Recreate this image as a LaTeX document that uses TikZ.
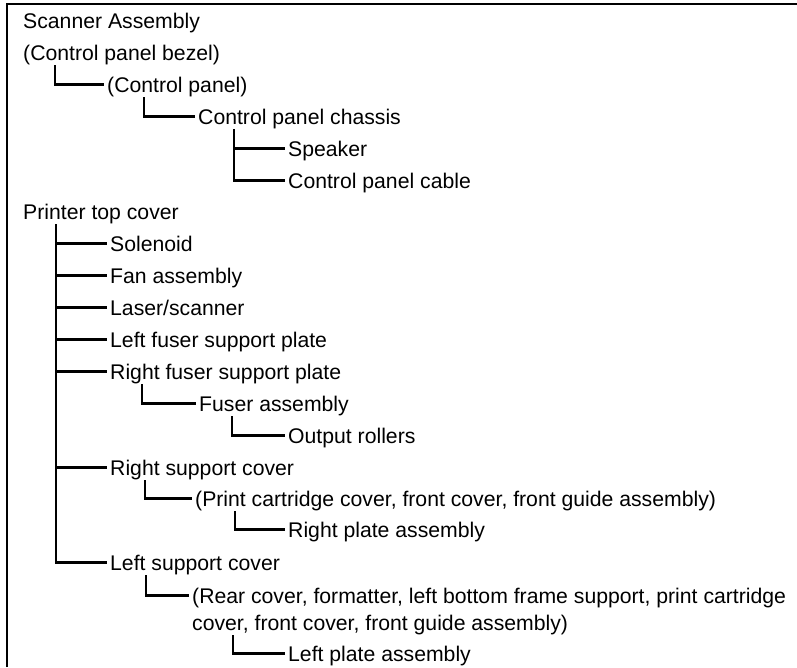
\documentclass[tikz,border=0pt]{standalone}
\usepackage{fontspec}
\setmainfont{Liberation Sans}
\begin{document}
\begin{tikzpicture}[
            x=1pt, y=-1pt,
            frame/.style={color=black, line width=2.6pt},
            link/.style={color=black, line width=2.1pt},
            part/.style={anchor=base west, inner xsep=3pt, inner ysep=0pt, text height=20pt, text depth=5pt, font=\fontsize{21.2}{25}\selectfont}
        ]
            \useasboundingbox (0,0) rectangle (797,667);

            % frame (left and top)
            \draw[frame] (7,667) -- (7,4) -- (797,4);

            % scanner branch
            \node[part] (scanner) at (20, 28) {Scanner Assembly};
            \node[part] (bezel) at (20, 60) {(Control panel bezel)};
            \node[part] (panel) at (104, 92) {(Control panel)};
            \node[part] (chassis) at (195, 124) {Control panel chassis};
            \node[part] (speaker) at (285, 156) {Speaker};
            \node[part] (cable) at (285, 188) {Control panel cable};

            % printer branch
            \node[part] (topcover) at (20, 219) {Printer top cover};
            \node[part] (solenoid) at (107, 251) {Solenoid};
            \node[part] (fan) at (107, 283) {Fan assembly};
            \node[part] (laser) at (107, 315) {Laser/scanner};
            \node[part] (leftfuser) at (107, 347) {Left fuser support plate};
            \node[part] (rightfuser) at (107, 379) {Right fuser support plate};
            \node[part] (fuser) at (196, 411) {Fuser assembly};
            \node[part] (rollers) at (285, 443) {Output rollers};
            \node[part] (rightsupport) at (107, 475) {Right support cover};
            \node[part] (cartridge) at (192, 506) {(Print cartridge cover, front cover, front guide assembly)};
            \node[part] (rightplate) at (285, 537) {Right plate assembly};
            \node[part] (leftsupport) at (107, 570) {Left support cover};
            \node[part] (rear) at (189, 603) {(Rear cover, formatter, left bottom frame support, print cartridge};
            \node[part] (rearcont) at (189, 630) {cover, front cover, front guide assembly)};
            \node[part] (leftplate) at (285, 661) {Left plate assembly};

            % links
            \draw[link] ([xshift=35pt]bezel.south west) |- (panel.west);
            \draw[link] ([xshift=40pt]panel.south west) |- (chassis.west);
            \foreach \p in {speaker, cable}{
                \draw[link] ([xshift=39pt]chassis.south west) |- (\p.west);
            }
            \foreach \p in {solenoid, fan, laser, leftfuser, rightfuser, rightsupport, leftsupport}{
                \draw[link] ([xshift=36pt]topcover.south west) |- (\p.west);
            }
            \draw[link] ([xshift=35pt]rightfuser.south west) |- (fuser.west);
            \draw[link] ([xshift=36pt]fuser.south west) |- (rollers.west);
            \draw[link] ([xshift=38pt]rightsupport.south west) |- (cartridge.west);
            \draw[link] ([xshift=43pt]cartridge.south west) |- (rightplate.west);
            \draw[link] ([xshift=39pt]leftsupport.south west) |- (rear.west);
            \draw[link] ([xshift=44pt]rearcont.south west) |- (leftplate.west);

        \end{tikzpicture}
\end{document}
